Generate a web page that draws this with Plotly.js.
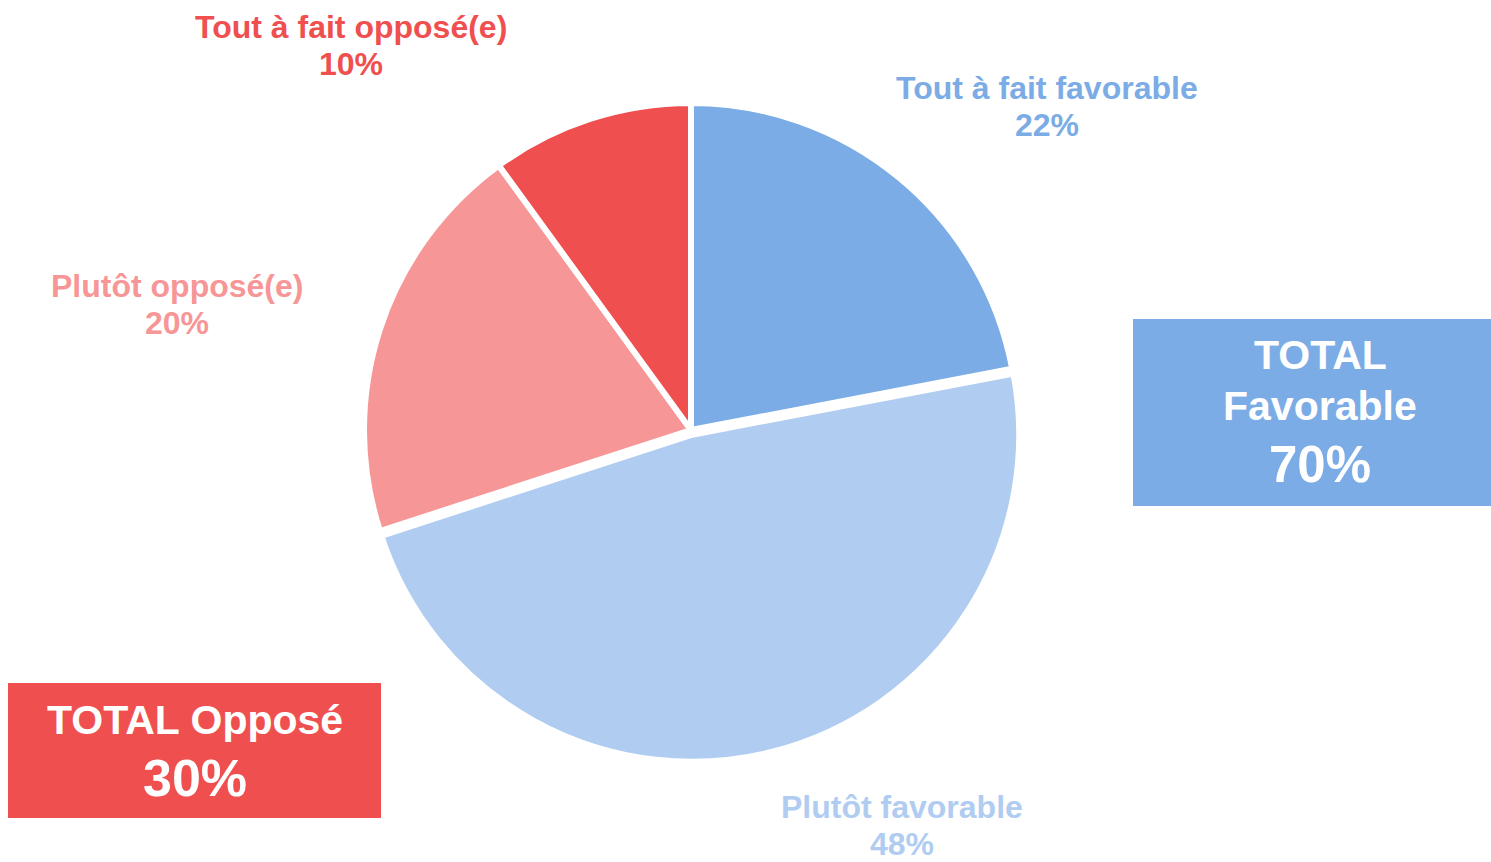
<!DOCTYPE html>
<html><head><meta charset="utf-8">
<script src="https://cdn.plot.ly/plotly-3.0.1.min.js"></script>
<style>html,body{margin:0;padding:0;background:#fff}#chart{width:1491px;height:862px}</style>
</head><body><div id="chart"></div>
<script>
const categories = ["Tout à fait favorable", "Plutôt favorable", "Plutôt opposé(e)", "Tout à fait opposé(e)"];
const values = [22, 48, 20, 10];
const colors = ["#7BACE6", "#B0CDF1", "#F79696", "#F04F4F"];
const pulls = [0, 0.015, 0, 0];
const totalLabels = ["TOTAL Favorable", "TOTAL Opposé"];
const totalValues = [values[0] + values[1], values[2] + values[3]];
const totalColors = ["#7BACE6", "#F04F4F"];

const W = 1491, H = 862;
const px = x => x / W, py = y => 1 - y / H;

const labelPos = [[1047, 88], [902, 807], [177, 286], [351, 27]];
const font = "Arial";
const annotations = [];
categories.forEach((c, i) => {
  annotations.push({xref:"paper", yref:"paper", x:px(labelPos[i][0]), y:py(labelPos[i][1]), text:"<b>"+c+"</b>", showarrow:false, xanchor:"center", yanchor:"middle", font:{family:font, size:32, color:colors[i]}});
  annotations.push({xref:"paper", yref:"paper", x:px(labelPos[i][0]), y:py(labelPos[i][1]+37), text:"<b>"+values[i]+"%</b>", showarrow:false, xanchor:"center", yanchor:"middle", font:{family:font, size:32, color:colors[i]}});
});
// Favorable box
annotations.push({xref:"paper", yref:"paper", x:px(1320), y:py(355), text:"<b>TOTAL</b>", showarrow:false, xanchor:"center", yanchor:"middle", font:{family:font, size:41, color:"#fff"}});
annotations.push({xref:"paper", yref:"paper", x:px(1320), y:py(406), text:"<b>Favorable</b>", showarrow:false, xanchor:"center", yanchor:"middle", font:{family:font, size:41, color:"#fff"}});
annotations.push({xref:"paper", yref:"paper", x:px(1320), y:py(465), text:"<b>"+totalValues[0]+"%</b>", showarrow:false, xanchor:"center", yanchor:"middle", font:{family:font, size:51, color:"#fff"}});
// Opposé box
annotations.push({xref:"paper", yref:"paper", x:px(195), y:py(720), text:"<b>"+totalLabels[1]+"</b>", showarrow:false, xanchor:"center", yanchor:"middle", font:{family:font, size:41, color:"#fff"}});
annotations.push({xref:"paper", yref:"paper", x:px(195), y:py(778), text:"<b>"+totalValues[1]+"%</b>", showarrow:false, xanchor:"center", yanchor:"middle", font:{family:font, size:52, color:"#fff"}});

const shapes = [
  {type:"rect", xref:"paper", yref:"paper", x0:px(1133), x1:px(1491), y0:py(506), y1:py(319), fillcolor:totalColors[0], line:{width:0}, layer:"below"},
  {type:"rect", xref:"paper", yref:"paper", x0:px(8), x1:px(381), y0:py(818), y1:py(683), fillcolor:totalColors[1], line:{width:0}, layer:"below"}
];

const R = 327, cx = 691, cy = 430, half = R * 1.015;
Plotly.newPlot("chart", [{
  type:"pie", labels:categories, values:values, sort:false, direction:"clockwise", rotation:0,
  marker:{colors:colors, line:{color:"#fff", width:6}}, pull:pulls,
  textinfo:"none", hoverinfo:"label+percent", showlegend:false,
  domain:{x:[px(cx-half), px(cx+half)], y:[py(cy+half), py(cy-half)]}
}], {
  width:W, height:H, margin:{l:0,r:0,t:0,b:0}, paper_bgcolor:"#fff", plot_bgcolor:"#fff",
  showlegend:false, annotations:annotations, shapes:shapes
}, {displayModeBar:false, staticPlot:true});
</script></body></html>
